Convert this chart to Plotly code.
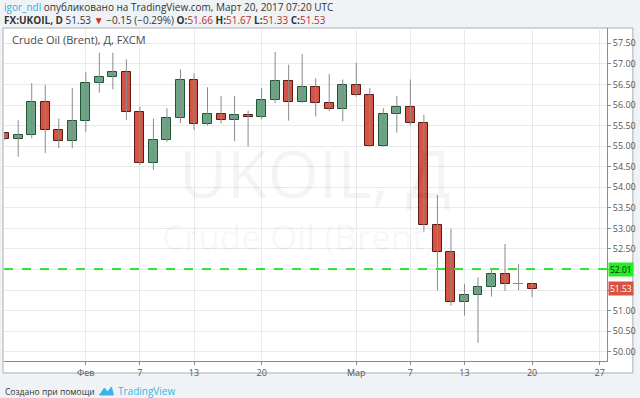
import numpy as np
import plotly.graph_objects as go

# ---------------- data ----------------
dates = ["2017-01-24", "2017-01-25", "2017-01-26", "2017-01-27", "2017-01-30", "2017-01-31",
         "2017-02-01", "2017-02-02", "2017-02-03", "2017-02-06", "2017-02-07", "2017-02-08",
         "2017-02-09", "2017-02-10", "2017-02-13", "2017-02-14", "2017-02-15", "2017-02-16",
         "2017-02-17", "2017-02-20", "2017-02-21", "2017-02-22", "2017-02-23", "2017-02-24",
         "2017-02-27", "2017-02-28", "2017-03-01", "2017-03-02", "2017-03-03", "2017-03-06",
         "2017-03-07", "2017-03-08", "2017-03-09", "2017-03-10", "2017-03-13", "2017-03-14",
         "2017-03-15", "2017-03-16", "2017-03-17", "2017-03-20"]
opens = [55.31, 55.17, 55.27, 56.07, 55.40, 55.12, 55.60, 56.53, 56.67, 56.80, 55.84, 54.60,
         55.15, 55.69, 56.61, 55.53, 55.77, 55.64, 55.76, 55.70, 56.11, 56.59, 56.08, 56.44,
         56.04, 55.90, 56.49, 56.24, 55.00, 55.77, 55.95, 55.56, 53.09, 52.42, 51.22, 51.38,
         51.58, 51.89, 51.66, 51.66]
highs = [55.33, 55.63, 56.53, 56.49, 55.67, 56.41, 56.80, 57.27, 57.27, 57.11, 55.96, 55.67,
         55.92, 56.87, 56.77, 56.43, 56.22, 56.22, 55.86, 56.41, 57.29, 56.98, 57.24, 56.65,
         56.75, 56.62, 57.03, 56.41, 55.92, 56.22, 56.62, 55.76, 53.81, 52.99, 51.65, 51.81,
         52.01, 52.62, 52.13, 51.67]
lows = [55.15, 54.74, 55.19, 54.83, 54.95, 54.95, 55.35, 56.30, 56.38, 55.64, 54.54, 54.42,
        55.10, 55.56, 55.39, 55.50, 55.55, 55.12, 54.99, 55.65, 56.05, 55.62, 56.05, 55.72,
        55.85, 55.60, 56.20, 54.98, 54.98, 55.33, 55.50, 52.92, 51.49, 51.12, 50.88, 50.22,
        51.34, 51.48, 51.50, 51.33]
closes = [55.17, 55.27, 56.07, 55.40, 55.12, 55.60, 56.53, 56.67, 56.80, 55.84, 54.60, 55.15,
          55.69, 56.61, 55.53, 55.77, 55.64, 55.75, 55.70, 56.11, 56.59, 56.08, 56.44, 56.04,
          55.90, 56.49, 56.24, 55.00, 55.77, 55.95, 55.56, 53.09, 52.42, 51.22, 51.38, 51.58,
          51.89, 51.66, 51.66, 51.53]
tick_dates = ["2017-02-01", "2017-02-07", "2017-02-13", "2017-02-20", "2017-03-01",
              "2017-03-07", "2017-03-13", "2017-03-20", "2017-03-27"]
tick_labels = ["Фев", "7", "13", "20", "Мар", "7", "13", "20", "27"]
price_ticks = [50.00, 50.50, 51.00, 51.50, 52.00, 52.50, 53.00, 53.50, 54.00,
               54.50, 55.00, 55.50, 56.00, 56.50, 57.00, 57.50]
level_line = 52.01

# ---------------- styling ----------------
UP, DOWN = "#6ba583", "#d75442"
UP_B, DOWN_B = "#225437", "#5b1a13"
WICK = "#8a8a8c"
FONT = "Open Sans"

W, H = 640, 398
ML, MR, MT, MB = 4, 30, 28, 37
PW, PH = W - ML - MR, H - MT - MB


def px(x):
    return (x - ML) / PW


def py(y):
    return (H - MB - y) / PH


start = np.datetime64(dates[0])
xs = np.busday_count(start, np.array(dates, dtype="datetime64[D]"))
tick_x = np.busday_count(start, np.array(tick_dates, dtype="datetime64[D]"))

body_w = 0.66
wx, wy, dx, dy = [], [], [], []
for x, o, h, l, c in zip(xs, opens, highs, lows, closes):
    wx += [x, x, None]
    wy += [l, h, None]
    if o == c:
        dx += [x - body_w / 2, x + body_w / 2, None]
        dy += [o, o, None]

base = [min(o, c) for o, c in zip(opens, closes)]
size = [abs(c - o) for o, c in zip(opens, closes)]
fill = [UP if c > o else DOWN for o, c in zip(opens, closes)]
border = [UP_B if c > o else DOWN_B for o, c in zip(opens, closes)]

# price-scale labels: the boxed marker labels sit on top of the nearest tick labels
covered = {round(level_line * 2) / 2, round(closes[-1] * 2) / 2}
price_text = ["" if v in covered else f"{v:.2f}" for v in price_ticks]

fig = go.Figure()
fig.add_trace(go.Scatter(x=wx, y=wy, mode="lines", line=dict(color=WICK, width=1),
                         hoverinfo="skip", showlegend=False))
fig.add_trace(go.Scatter(x=dx, y=dy, mode="lines", line=dict(color=WICK, width=1),
                         hoverinfo="skip", showlegend=False))
fig.add_trace(go.Bar(x=xs, y=size, base=base, width=body_w,
                     marker=dict(color=fill, line=dict(color=border, width=1)),
                     showlegend=False, hoverinfo="skip"))

shapes = [
    dict(type="rect", xref="paper", yref="paper", x0=px(3), x1=px(636), y0=py(373), y1=py(28),
         fillcolor="white", line=dict(color="#a9adb1", width=1), layer="below"),
    dict(type="line", xref="paper", yref="y", x0=0, x1=1, y0=level_line, y1=level_line,
         line=dict(color="#33e433", width=2, dash="dash")),
    # TradingView logo (simple cloud-like mark)
    dict(type="path", xref="paper", yref="paper",
         path=("M {a},{b} L {c},{d} L {e},{f} L {g},{h} L {i},{j} Z").format(
             a=px(100), b=py(395), c=px(105), d=py(388), e=px(108), f=py(392),
             g=px(112), h=py(387), i=px(114), j=py(395)),
         fillcolor="#3bb3e4", line=dict(color="#3bb3e4", width=1)),
]

ann = [
    dict(text="<span style='color:#3ea8de'>igor_ndl</span> опубликовано на TradingView.com, Март 20, 2017 07:20 UTC",
         x=px(2), y=py(7), xanchor="left", yanchor="middle", font=dict(size=10, color="#333333")),
    dict(text=("<b>FX:UKOIL, D</b> 51.53 <span style='color:#d0302a'>▼</span> −0.15 (−0.29%) "
               "<b>O:</b><span style='color:#b5322a'>51.66</span> <b>H:</b><span style='color:#b5322a'>51.67</span> "
               "<b>L:</b><span style='color:#b5322a'>51.33</span> <b>C:</b><span style='color:#b5322a'>51.53</span>"),
         x=px(2), y=py(20), xanchor="left", yanchor="middle", font=dict(size=10, color="#333333")),
    dict(text="Crude Oil (Brent), Д, FXCM", x=px(10), y=py(40), xanchor="left", yanchor="middle",
         font=dict(size=11, color="#4a4a4a")),
    dict(text="UKOIL, Д", x=px(317), y=py(172), xanchor="center", yanchor="middle",
         font=dict(size=66, color="rgba(0,0,0,0.045)")),
    dict(text="Crude Oil (Brent)", x=px(300), y=py(237), xanchor="center", yanchor="middle",
         font=dict(size=35, color="rgba(0,0,0,0.045)")),
    dict(text=f"{level_line:.2f}", x=1, xref="paper", y=level_line, yref="y", xanchor="left",
         yanchor="middle", xshift=1, showarrow=False, bgcolor="#22ee22", borderpad=1,
         font=dict(size=8.5, color="#1a1a1a")),
    dict(text=f"{closes[-1]:.2f}", x=1, xref="paper", y=closes[-1], yref="y", xanchor="left",
         yanchor="middle", xshift=1, showarrow=False, bgcolor=DOWN, borderpad=1,
         font=dict(size=8.5, color="white")),
    dict(text="Создано при помощи", x=px(3), y=py(391), xanchor="left", yanchor="middle",
         font=dict(size=8.5, color="#333333")),
    dict(text="TradingView", x=px(117), y=py(391), xanchor="left", yanchor="middle",
         font=dict(size=10, color="#3bb3e4")),
]
for a in ann:
    a.setdefault("xref", "paper")
    a.setdefault("yref", "paper")
    a.setdefault("showarrow", False)

fig.update_layout(
    width=W, height=H, margin=dict(l=ML, r=MR, t=MT, b=MB),
    paper_bgcolor="#f0f3f6", plot_bgcolor="white",
    font=dict(family=FONT, color="#555555", size=9),
    shapes=shapes, annotations=ann, bargap=0,
    xaxis=dict(range=[-0.05, 44.54], tickvals=tick_x, ticktext=tick_labels,
               showgrid=True, gridcolor="#e8e9ea", gridwidth=1, zeroline=False,
               showline=True, linecolor="#8c8c8c", linewidth=1,
               ticks="outside", ticklen=3, tickcolor="#8c8c8c",
               tickfont=dict(size=9, color="#555555")),
    yaxis=dict(range=[49.776, 57.872], side="right", tickvals=price_ticks, ticktext=price_text,
               showgrid=True, gridcolor="#e8e9ea", gridwidth=1, zeroline=False,
               showline=True, linecolor="#8c8c8c", linewidth=1,
               ticks="outside", ticklen=3, tickcolor="#8c8c8c",
               tickfont=dict(size=9, color="#555555")),
)

fig.write_html("out.html")
